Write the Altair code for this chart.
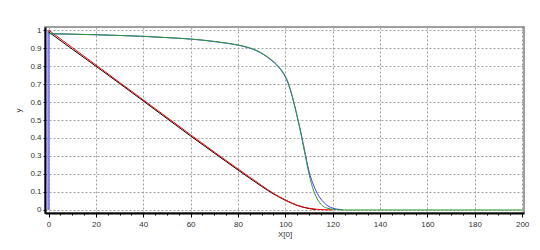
import altair as alt
import pandas as pd

# ---- data ----
green_x = [0, 10, 20, 30, 40, 50, 60, 70, 75, 80, 84, 88, 91, 94, 97, 99, 101, 103, 105, 106, 108, 110, 112, 114, 116, 118, 120, 123, 125, 200]
green_y = [0.98, 0.977, 0.974, 0.97, 0.965, 0.958, 0.95, 0.937, 0.928, 0.917, 0.905, 0.886, 0.864, 0.836, 0.8, 0.766, 0.715, 0.63, 0.52, 0.46, 0.33, 0.2, 0.105, 0.05, 0.02, 0.009, 0.004, 0.001, 0.0, 0.0]

blue_x = [0, 10, 20, 30, 40, 50, 60, 70, 75, 80, 84, 88, 91, 94, 97, 99, 101, 103, 105, 106, 108, 110, 112, 114, 116, 118, 120, 122, 124]
blue_y = [0.98, 0.977, 0.974, 0.97, 0.965, 0.958, 0.95, 0.936, 0.927, 0.916, 0.903, 0.884, 0.862, 0.833, 0.796, 0.762, 0.71, 0.625, 0.52, 0.465, 0.34, 0.215, 0.135, 0.08, 0.045, 0.022, 0.01, 0.004, 0.001]

vert_x = [0, 0]
vert_y = [0.0, 1.0]

red_x = [0, 10, 20, 30, 40, 50, 60, 70, 80, 85, 90, 95, 100, 105, 110, 115, 120]
red_y = [1.0, 0.903, 0.806, 0.709, 0.612, 0.515, 0.418, 0.322, 0.228, 0.182, 0.136, 0.092, 0.056, 0.026, 0.009, 0.002, 0.0]

black_x = [0, 10, 20, 30, 40, 50, 60, 70, 80, 85, 90, 95, 100, 105, 110, 113]
black_y = [0.99, 0.894, 0.799, 0.703, 0.606, 0.508, 0.411, 0.316, 0.222, 0.176, 0.131, 0.089, 0.054, 0.025, 0.008, 0.002]

x_ticks = list(range(0, 201, 5))
y_ticks = [round(i * 0.1, 1) for i in range(11)]

FONT = "Liberation Sans"
LABEL = "#333333"

xscale = alt.Scale(domain=[-1.5, 200.8], nice=False, zero=False)
yscale = alt.Scale(domain=[-0.017, 1.017], nice=False, zero=False)

xaxis = alt.Axis(
    title="X[0]", values=x_ticks, format="d",
    labelExpr="datum.value % 20 === 0 ? datum.label : ''",
    tickSize={"condition": {"test": "datum.value % 20 === 0", "value": 4}, "value": 2},
    gridOpacity={"condition": {"test": "datum.value % 20 === 0", "value": 1}, "value": 0},
    labelPadding=3, titlePadding=2,
    labelFlush=False, labelOverlap=False,
)
yaxis = alt.Axis(
    title="y", values=y_ticks, format=".1~f", tickSize=2, labelPadding=2,
    titleX=-23, titleY=83,
)


def series(xs, ys, color, width=1.0, interp="monotone"):
    df = pd.DataFrame({"x": xs, "y": ys, "i": list(range(len(xs)))})
    return alt.Chart(df).mark_line(
        color=color, strokeWidth=width, clip=True, interpolate=interp
    ).encode(
        x=alt.X("x:Q", scale=xscale, axis=xaxis),
        y=alt.Y("y:Q", scale=yscale, axis=yaxis),
        order=alt.Order("i:Q"),
    )


chart = alt.layer(
    series(vert_x, vert_y, "#8080ff", 2.5, "linear"),
    series(black_x, black_y, "#000000", 1.0),
    series(red_x, red_y, "#ff0000", 1.0),
    series(blue_x, blue_y, "#3a3aff", 1.0),
    series(green_x, green_y, "#2f9a2f", 1.0),
).properties(
    width=479, height=186,
    autosize=alt.AutoSizeParams(type="none"),
    padding={"left": 45, "top": 27, "right": 16, "bottom": 37},
    background="white",
).configure_view(
    stroke="#808080", strokeWidth=1.5,
).configure_axis(
    domainColor="#000000", domainWidth=2,
    tickColor="#000000", tickWidth=1,
    grid=True, gridColor="#a0a0a0", gridDash=[2, 2], gridWidth=1,
    labelFont=FONT, labelFontSize=8, labelColor=LABEL,
    titleFont=FONT, titleFontSize=8, titleColor=LABEL, titleFontWeight="normal",
)

chart.save("out.html", embed_options={"renderer": "svg", "actions": False})
